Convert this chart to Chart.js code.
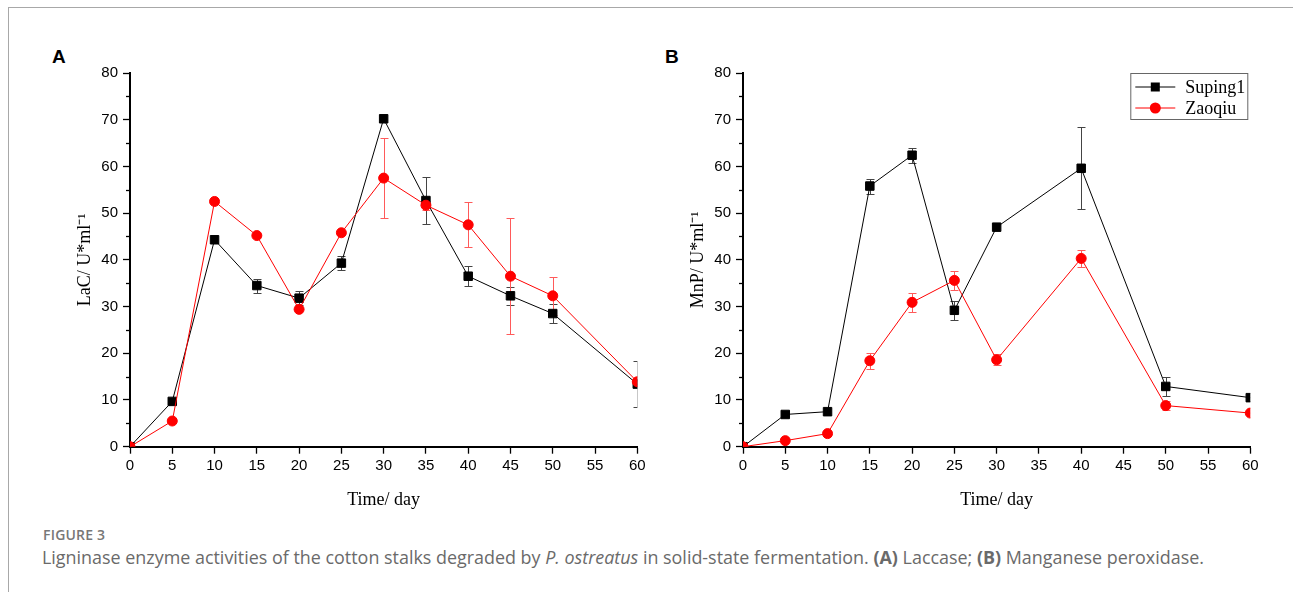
<!DOCTYPE html>
<html>
<head>
<meta charset="utf-8">
<script src="https://cdn.jsdelivr.net/npm/chart.js@4.4.1/dist/chart.umd.min.js"></script>
<style>
  html, body { margin: 0; padding: 0; background: #fff; }
  body { width: 1293px; height: 592px; position: relative; overflow: hidden; }
  .frame { position: absolute; left: 8px; top: 7px; width: 1300px; height: 600px;
           border-top: 1px solid #a8a8a8; border-left: 1px solid #a8a8a8; }
  .panel { position: absolute; font: bold 19px "Liberation Sans", Arial, sans-serif; line-height: 19px; color: #000; }
  canvas { position: absolute; }
  .fig-no { position: absolute; left: 43px; top: 525px; font: 600 14px "Open Sans", sans-serif;
            color: #777; letter-spacing: 0.2px; }
  .caption { position: absolute; left: 42px; top: 545px; font: 400 17px "Open Sans", sans-serif;
             color: #6a6a6a; white-space: nowrap; }
  .caption b { font-weight: 700; }
</style>
</head>
<body>
<div class="frame"></div>
<div class="panel" style="left:52px; top:47px;">A</div>
<div class="panel" style="left:665px; top:47px;">B</div>
<canvas id="chartA" width="630" height="490" style="left:20px; top:30px;"></canvas>
<canvas id="chartB" width="630" height="490" style="left:633px; top:30px;"></canvas>
<div class="fig-no">FIGURE 3</div>
<div class="caption" id="caption">Ligninase enzyme activities of the cotton stalks degraded by <i>P. ostreatus</i> in solid-state fermentation. <b>(A)</b> Laccase; <b>(B)</b> Manganese peroxidase.</div>

<script>
    // Sampling days
    var daysA = [0, 5, 10, 15, 20, 25, 30, 35, 40, 45, 50, 60];
    var daysB = [0, 5, 10, 15, 20, 25, 30, 40, 50, 60];

    // (A) Laccase activity, U/ml
    var lacSuping = [0, 9.7, 44.3, 34.5, 31.8, 39.3, 70.2, 52.7, 36.5, 32.3, 28.5, 13.4];
    var lacSupingErr = [0, 0, 0, 1.5, 1.5, 1.5, 0, 5.0, 2.2, 1.9, 2.0, 4.85];
    var lacZaoqiu = [0, 5.5, 52.5, 45.2, 29.4, 45.8, 57.5, 51.7, 47.5, 36.5, 32.3, 13.9];
    var lacZaoqiuErr = [0, 0, 0, 0, 0, 0, 8.6, 1.0, 4.85, 12.4, 4.0, 0];

    // (B) Manganese peroxidase activity, U/ml
    var mnpSuping = [0, 6.9, 7.5, 55.8, 62.4, 29.2, 47.0, 59.6, 12.9, 10.5];
    var mnpSupingErr = [0, 0, 0, 1.6, 1.6, 2.0, 0, 8.8, 2.1, 0];
    var mnpZaoqiu = [0, 1.3, 2.8, 18.4, 30.9, 35.6, 18.6, 40.3, 8.8, 7.2];
    var mnpZaoqiuErr = [0, 0, 0, 1.7, 2.1, 2.1, 1.2, 1.9, 1.0, 0];

    // Axes
    var xTicks = [0, 5, 10, 15, 20, 25, 30, 35, 40, 45, 50, 55, 60];
    var yTicks = [0, 10, 20, 30, 40, 50, 60, 70, 80];
    var yMinorTicks = [5, 15, 25, 35, 45, 55, 65, 75];

    var BLACK = '#000000';
    var RED = '#ff0000';
    var SERIF = '"Liberation Serif", "Times New Roman", serif';
    var SANS = '"Liberation Sans", Arial, sans-serif';

    function toPoints(xs, ys) {
        return xs.map(function(x, i) { return { x: x, y: ys[i] }; });
    }

    /**
     * Vertical error bars with caps, clipped to the plot area
     */
    var errorBarPlugin = {
        id: 'errorBars',
        beforeDatasetsDraw: function(chart) {
            var ctx = chart.ctx, area = chart.chartArea;
            var xs = chart.scales.x, ys = chart.scales.y;
            ctx.save();
            ctx.beginPath();
            ctx.rect(area.left, area.top, area.right - area.left, area.bottom - area.top);
            ctx.clip();
            chart.data.datasets.forEach(function(ds) {
                if (!ds.errors) return;
                ctx.strokeStyle = ds.errorColor;
                ctx.lineWidth = 1;
                ds.data.forEach(function(p, i) {
                    var e = ds.errors[i];
                    if (!e) return;
                    var x = Math.round(xs.getPixelForValue(p.x)) + 0.5;
                    var y1 = Math.round(ys.getPixelForValue(p.y + e)) + 0.5;
                    var y2 = Math.round(ys.getPixelForValue(p.y - e)) + 0.5;
                    ctx.beginPath();
                    ctx.moveTo(x, y1); ctx.lineTo(x, y2);
                    ctx.moveTo(x - 4, y1); ctx.lineTo(x + 4, y1);
                    ctx.moveTo(x - 4, y2); ctx.lineTo(x + 4, y2);
                    ctx.stroke();
                });
            });
            ctx.restore();
        }
    };

    /**
     * Short minor ticks on the y axis
     */
    var minorTickPlugin = {
        id: 'minorTicks',
        afterDraw: function(chart) {
            var ctx = chart.ctx, ys = chart.scales.y;
            ctx.save();
            ctx.strokeStyle = BLACK;
            ctx.lineWidth = 1.3;
            yMinorTicks.forEach(function(v) {
                var py = Math.round(ys.getPixelForValue(v)) + 0.5;
                ctx.beginPath();
                ctx.moveTo(ys.right - 4, py);
                ctx.lineTo(ys.right, py);
                ctx.stroke();
            });
            ctx.restore();
        }
    };

    /**
     * Boxed legend in the top right corner (Origin style)
     */
    var boxLegendPlugin = {
        id: 'boxLegend',
        afterDraw: function(chart, args, opts) {
            if (!opts.show) return;
            var ctx = chart.ctx, area = chart.chartArea;
            var w = 117, h = 46;
            var x0 = area.right - 3 - w, y0 = area.top;
            ctx.save();
            ctx.fillStyle = '#fff';
            ctx.fillRect(x0, y0, w, h);
            ctx.strokeStyle = '#666';
            ctx.lineWidth = 1;
            ctx.strokeRect(x0 + 0.5, y0 + 0.5, w, h);
            chart.data.datasets.forEach(function(ds, i) {
                var cy = y0 + 14 + i * 21;
                var cx = x0 + 25;
                ctx.strokeStyle = ds.borderColor;
                ctx.lineWidth = 1;
                ctx.beginPath();
                ctx.moveTo(x0 + 5, cy);
                ctx.lineTo(x0 + 45, cy);
                ctx.stroke();
                ctx.fillStyle = ds.pointBackgroundColor;
                if (ds.pointStyle === 'rect') {
                    ctx.fillRect(cx - 4.5, cy - 4.5, 9, 9);
                } else {
                    ctx.beginPath();
                    ctx.arc(cx, cy, 5.5, 0, Math.PI * 2);
                    ctx.fill();
                }
                ctx.fillStyle = '#000';
                ctx.font = '18px ' + SERIF;
                ctx.textBaseline = 'middle';
                ctx.fillText(ds.label, x0 + 55, cy + 1);
            });
            ctx.restore();
        }
    };

    function makeDataset(label, xs, ys, errs, color, errColor, style, order) {
        return {
            label: label,
            data: toPoints(xs, ys),
            errors: errs,
            errorColor: errColor,
            borderColor: color,
            borderWidth: 1,
            pointStyle: style,
            pointRadius: style === 'rect' ? 6 : 5,
            pointBackgroundColor: color,
            pointBorderColor: color,
            pointBorderWidth: 1,
            tension: 0,
            clip: 0,
            order: order
        };
    }

    function makeChart(canvasId, yTitle, datasets, showLegend) {
        return new Chart(document.getElementById(canvasId), {
            type: 'line',
            data: { datasets: datasets },
            options: {
                responsive: false,
                animation: false,
                layout: { padding: { top: 43, right: 12.7, left: 0, bottom: 0 } },
                plugins: {
                    legend: { display: false },
                    tooltip: { enabled: false },
                    boxLegend: { show: showLegend }
                },
                scales: {
                    x: {
                        type: 'linear',
                        min: 0,
                        max: 60,
                        afterBuildTicks: function(scale) {
                            scale.ticks = xTicks.map(function(v) { return { value: v }; });
                        },
                        afterFit: function(scale) { scale.height = 73.3; },
                        grid: { display: true, drawOnChartArea: false, tickLength: 7, tickWidth: 1.3, tickColor: BLACK },
                        border: { display: true, color: BLACK, width: 2 },
                        ticks: { color: BLACK, padding: 3, font: { family: SANS, size: 15 }, maxRotation: 0 },
                        title: {
                            display: true,
                            text: 'Time/ day',
                            color: BLACK,
                            font: { family: SERIF, size: 18 },
                            padding: { top: 4, bottom: 9 }
                        }
                    },
                    y: {
                        min: 0,
                        max: 80,
                        afterBuildTicks: function(scale) {
                            scale.ticks = yTicks.map(function(v) { return { value: v }; });
                        },
                        afterFit: function(scale) { scale.width = 110; },
                        grid: { display: true, drawOnChartArea: false, tickLength: 7, tickWidth: 1.3, tickColor: BLACK },
                        border: { display: true, color: BLACK, width: 2 },
                        ticks: { color: BLACK, padding: 5, font: { family: SANS, size: 15 } },
                        title: {
                            display: true,
                            text: yTitle,
                            color: BLACK,
                            font: { family: SERIF, size: 18 },
                            padding: { top: 54 }
                        }
                    }
                }
            },
            plugins: [errorBarPlugin, minorTickPlugin, boxLegendPlugin]
        });
    }

    makeChart('chartA', 'LaC/ U*ml\u207B\u00B9', [
        makeDataset('Suping1', daysA, lacSuping, lacSupingErr, BLACK, '#444', 'rect', 1),
        makeDataset('Zaoqiu', daysA, lacZaoqiu, lacZaoqiuErr, RED, '#ff5a5a', 'circle', 0)
    ], false);

    makeChart('chartB', 'MnP/ U*ml\u207B\u00B9', [
        makeDataset('Suping1', daysB, mnpSuping, mnpSupingErr, BLACK, '#444', 'rect', 1),
        makeDataset('Zaoqiu', daysB, mnpZaoqiu, mnpZaoqiuErr, RED, '#ff5a5a', 'circle', 0)
    ], true);

    // Fit the caption line to the width it has in the figure
    var cap = document.getElementById('caption');
    var target = 1163;
    var size = 17 * target / cap.offsetWidth;
    cap.style.fontSize = size.toFixed(2) + 'px';
</script>
</body>
</html>
